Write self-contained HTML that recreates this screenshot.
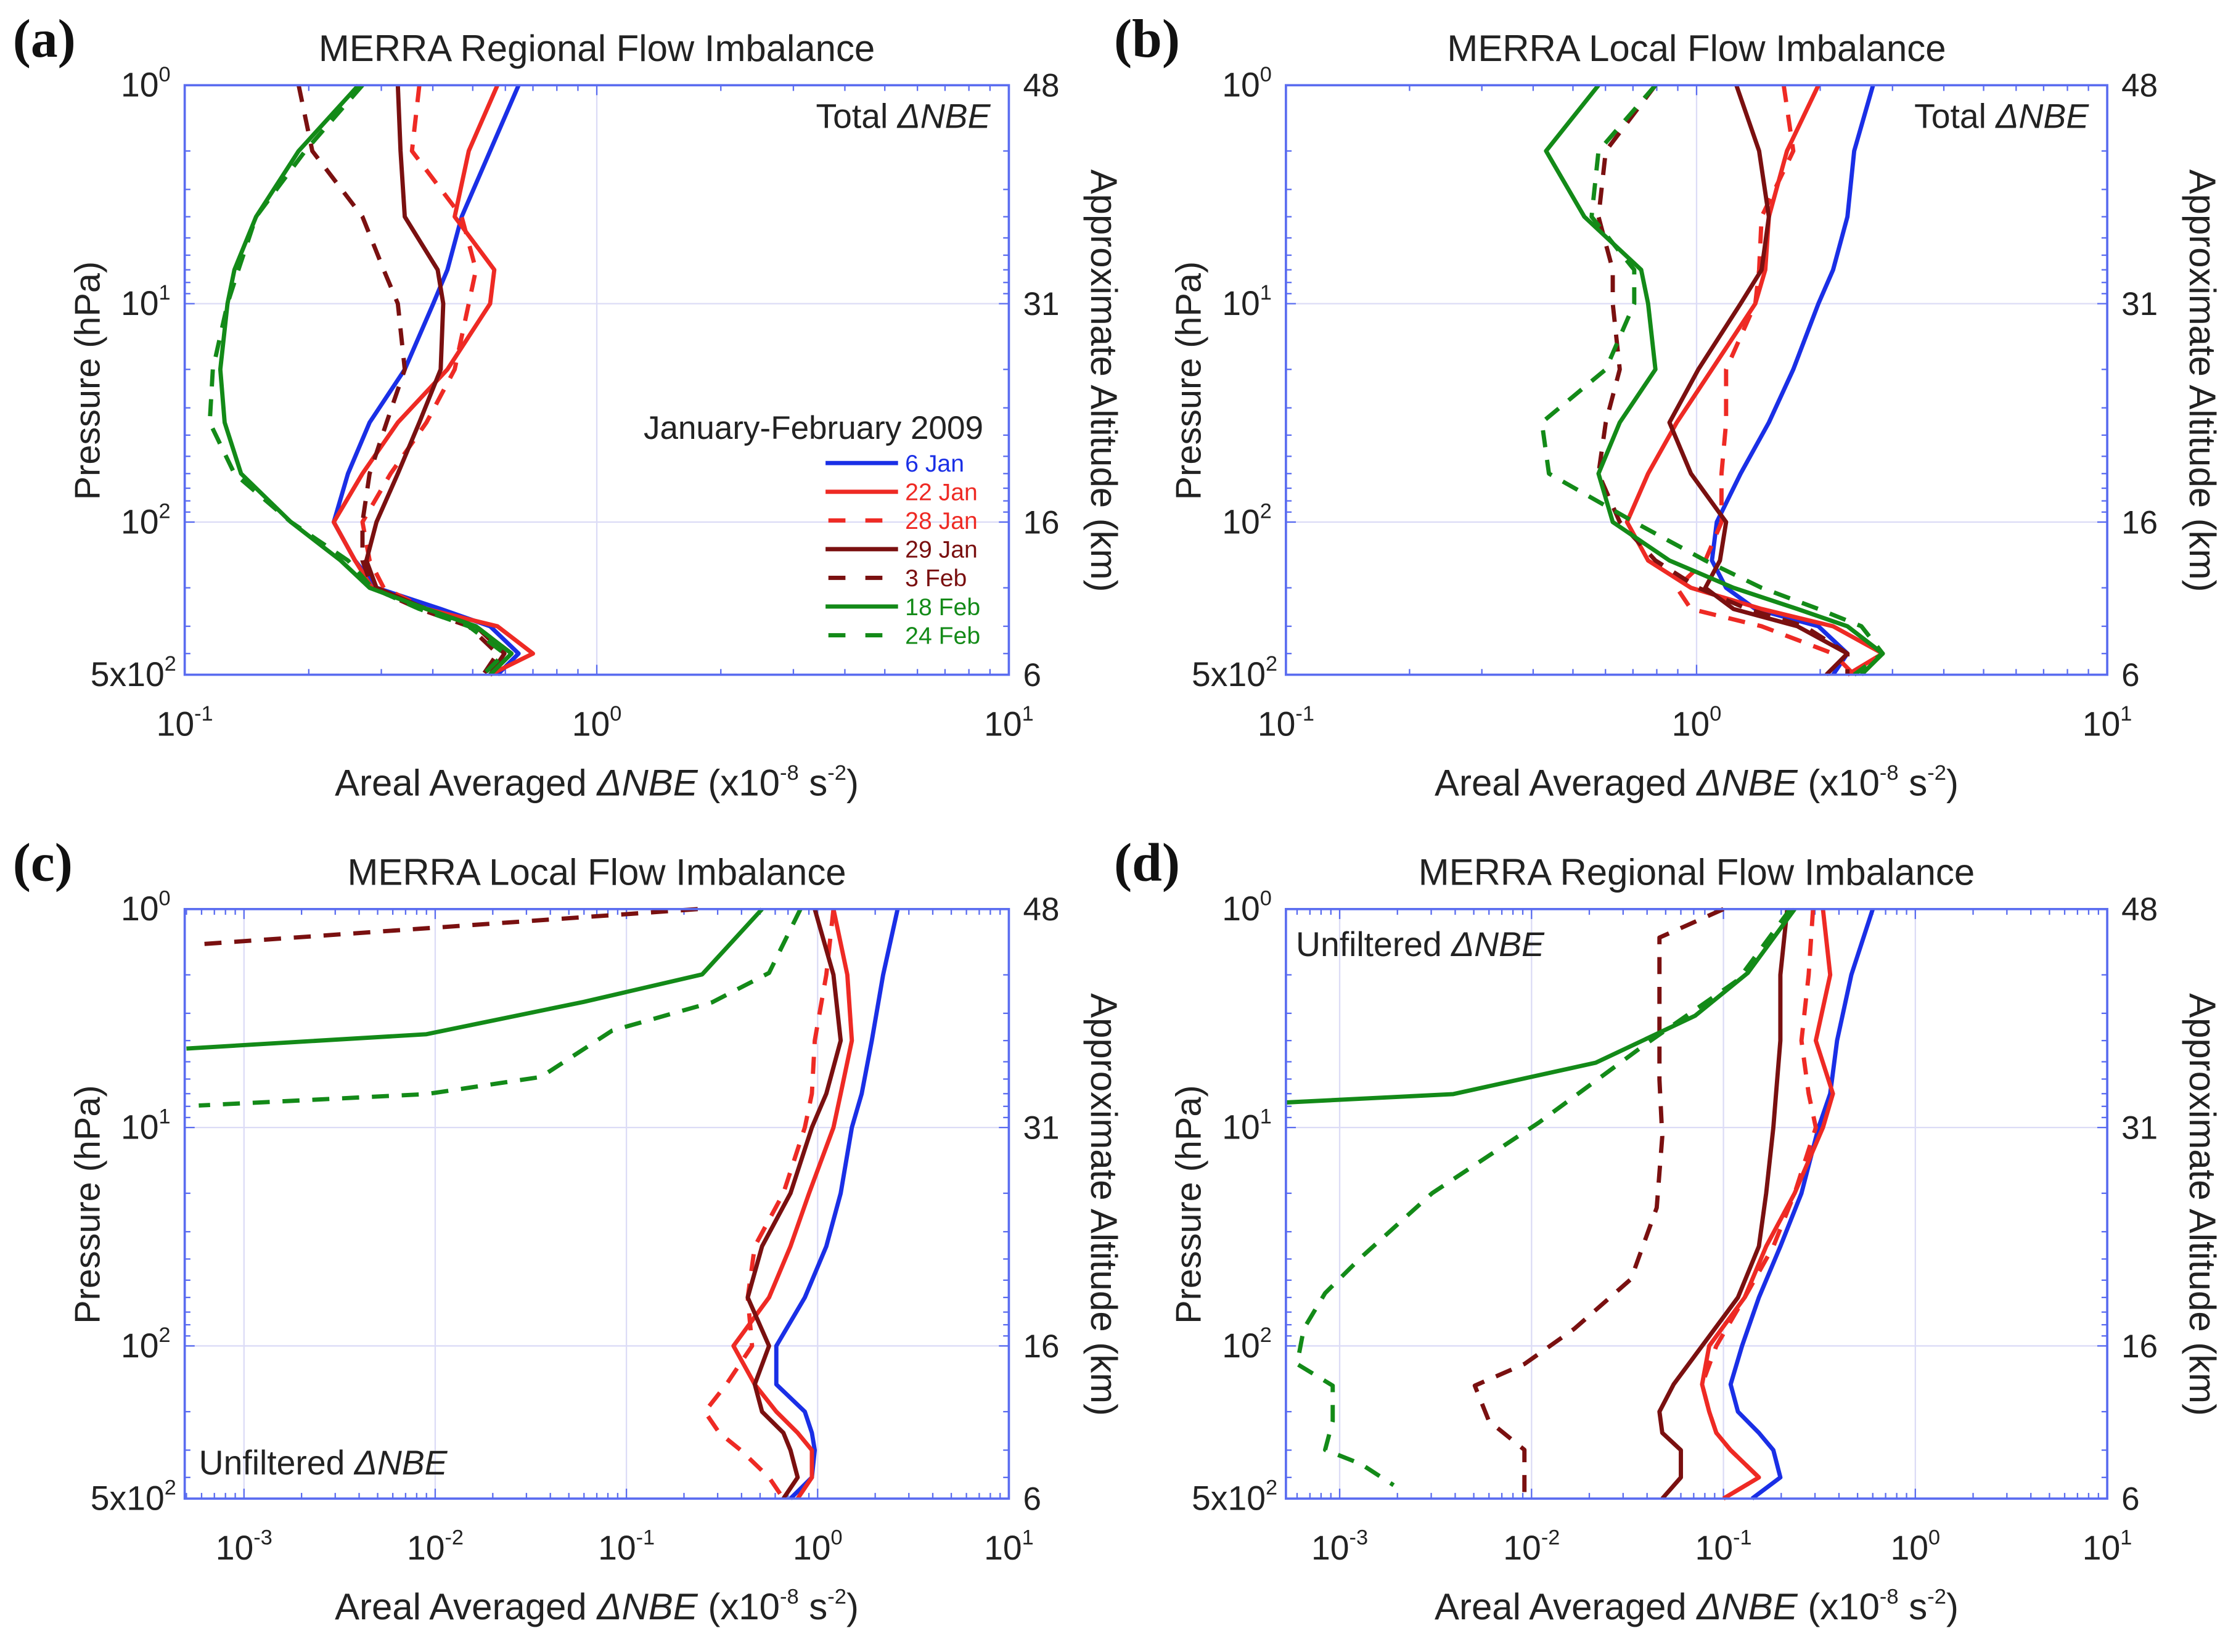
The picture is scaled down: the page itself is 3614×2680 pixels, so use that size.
<!DOCTYPE html>
<html><head><meta charset="utf-8"><style>
html,body{margin:0;padding:0;background:#fff;}
svg{display:block;font-family:"Liberation Sans",sans-serif;}
</style></head><body>
<svg id="fig" width="3614" height="2680" viewBox="0 0 1568 1163" preserveAspectRatio="none" xmlns="http://www.w3.org/2000/svg"></svg>
<script>
// Shared pressure levels (hPa)
const P = [1,2,4,7,10,20,35,60,100,150,200,250,300,400,500];
const seriesNames = ['6 Jan','22 Jan','28 Jan','29 Jan','3 Feb','18 Feb','24 Feb'];
// Panel (a) values
const a_6jan  = [0.646,0.551,0.470,0.434,0.401,0.342,0.281,0.249,0.230,0.259,0.292,0.418,0.551,0.646,0.574];
const a_22jan = [0.574,0.489,0.452,0.564,0.551,0.434,0.329,0.270,0.230,0.259,0.285,0.386,0.574,0.700,0.551];
const a_28jan = [0.371,0.356,0.470,0.509,0.489,0.452,0.386,0.316,0.270,0.281,0.304,0.386,0.509,0.621,0.551];
const a_29jan = [0.329,0.334,0.342,0.411,0.424,0.418,0.371,0.329,0.292,0.276,0.292,0.386,0.509,0.597,0.551];
const a_3feb  = [0.189,0.204,0.270,0.304,0.329,0.342,0.309,0.281,0.270,0.270,0.285,0.371,0.489,0.574,0.530];
const a_18feb = [0.264,0.189,0.149,0.132,0.127,0.122,0.125,0.137,0.181,0.239,0.281,0.386,0.509,0.621,0.551];
const a_24feb = [0.270,0.196,0.149,0.135,0.127,0.117,0.115,0.132,0.181,0.249,0.285,0.371,0.489,0.597,0.530];
// Panel (b) values
const b_6jan  = [2.69,2.42,2.33,2.15,1.98,1.72,1.50,1.28,1.12,1.09,1.18,1.39,1.98,2.33,2.15];
const b_22jan = [1.98,1.66,1.50,1.47,1.39,1.09,0.895,0.762,0.677,0.762,0.969,1.44,2.15,2.84,2.33];
const b_28jan = [1.63,1.72,1.44,1.42,1.39,1.18,1.18,1.15,1.15,1.05,0.895,0.969,1.44,2.15,2.42];
const b_29jan = [1.25,1.42,1.50,1.44,1.28,1.01,0.859,0.969,1.18,1.14,1.05,1.23,1.76,2.33,2.07];
const b_3feb  = [0.794,0.601,0.577,0.625,0.625,0.650,0.601,0.577,0.650,0.794,1.01,1.33,1.83,2.33,2.33];
const b_18feb = [0.577,0.430,0.533,0.733,0.762,0.794,0.650,0.577,0.625,0.859,1.23,1.76,2.33,2.84,2.52];
const b_24feb = [0.794,0.577,0.555,0.705,0.705,0.601,0.420,0.437,0.705,1.05,1.44,1.98,2.52,2.84,2.42];
// Panel (c) values
const c_6jan  = [2.62,2.20,1.92,1.70,1.51,1.32,1.11,0.857,0.608,0.608,0.857,0.933,0.966,0.933,0.721];
const c_22jan = [1.21,1.43,1.51,1.32,1.21,0.902,0.721,0.557,0.363,0.469,0.608,0.786,0.933,0.933,0.786];
const c_28jan = [1.21,1.11,0.966,0.933,0.857,0.662,0.469,0.431,0.454,0.333,0.257,0.306,0.396,0.557,0.662];
const c_29jan = [0.966,1.21,1.32,1.11,0.933,0.721,0.512,0.431,0.557,0.469,0.512,0.662,0.721,0.786,0.662];
const c_3feb_p = [1,1.45];
const c_3feb  = [0.236,0.00058];
const c_18feb_p = [1,1.99,2.66,3.74,4.35];
const c_18feb = [0.512,0.249,0.0597,0.0090,0.0005];
const c_24feb_p = [1,1.96,2.67,3.6,5.87,7.03,7.93];
const c_24feb = [0.813,0.557,0.281,0.0842,0.0357,0.0090,0.00058];
// Panel (d) values
const d_6jan  = [0.600,0.464,0.391,0.360,0.313,0.255,0.198,0.153,0.125,0.109,0.119,0.153,0.182,0.198,0.141];
const d_22jan = [0.330,0.360,0.303,0.372,0.330,0.235,0.167,0.129,0.0843,0.0774,0.0843,0.0918,0.109,0.153,0.100];
const d_28jan = [0.293,0.278,0.255,0.278,0.303,0.235,0.182,0.129,0.0918,0.0774,0.0843,0.0918,0.109,0.153,0.100];
const d_29jan = [0.215,0.198,0.198,0.188,0.182,0.167,0.153,0.119,0.0774,0.0550,0.0464,0.0480,0.0600,0.0600,0.0480];
const d_3feb_p = [1,1.35,6.05,11.0,23.3,49.4,83.5,121,152,221,299,469];
const d_3feb  = [0.1,0.0464,0.0464,0.048,0.0449,0.0330,0.0167,0.00918,0.00506,0.0060,0.00918,0.00918];
const d_18feb_p = [1,1.96,3.08,5.05,7.03,7.68];
const d_18feb = [0.235,0.134,0.0711,0.0216,0.00391,0.000506];
const d_24feb_p = [1,2.11,4.16,9.5,20.0,39.4,57.3,83.5,121,152,221,299,347,434];
const d_24feb = [0.223,0.119,0.0392,0.0109,0.00303,0.00129,0.00084,0.00065,0.0006,0.00092,0.00092,0.00084,0.00129,0.00191];
// Axis tick labels
const yTickExp = [0,1,2];
const altLabels = ['48','31','16','6'];
const xTickExpAB = [-1,0,1];
const xTickExpCD = [-3,-2,-1,0,1];

const NS='http://www.w3.org/2000/svg';
const svg=document.getElementById('fig');
const COL={'6 Jan':'#1a2fe6','22 Jan':'#ee2a24','28 Jan':'#ee2a24','29 Jan':'#7a1010','3 Feb':'#7a1010','18 Feb':'#138a18','24 Feb':'#138a18'};
const DASH={'28 Jan':1,'3 Feb':1,'24 Feb':1};
function el(tag,attrs,parent){const e=document.createElementNS(NS,tag);for(const k in attrs)e.setAttribute(k,attrs[k]);(parent||svg).appendChild(e);return e;}
function sup(parent,x,y,base,exp,size,anchor){
  const t=el('text',{x:x,y:y,'font-size':size,'text-anchor':anchor||'middle',fill:'#222'},parent);
  t.appendChild(document.createTextNode(base));
  const s=el('tspan',{'font-size':size*0.62,dy:-size*0.45},t);
  s.textContent=exp;
  return t;
}
function panel(cfg){
  const g=el('g',{});
  
  
  const x0=cfg.x0,x1=cfg.x1,y0=cfg.y0,y1=cfg.y0+415;
  const dec=(x1-x0)/(cfg.lmax-cfg.lmin);
  const X=v=>x0+(Math.log10(v)-cfg.lmin)*dec;
  const Y=p=>y0+Math.log10(p)*(415/Math.log10(500));
  for(let e=Math.ceil(cfg.lmin);e<cfg.lmax;e++){ if(X(Math.pow(10,e))<=x0+1)continue;
    const l=el('line',{x1:X(Math.pow(10,e)),x2:X(Math.pow(10,e)),y1:y0,y2:y1,stroke:'#dcdcf6','stroke-width':1},g);
    
    }
  [10,100].forEach(p=>{const l=el('line',{x1:x0,x2:x1,y1:Y(p),y2:Y(p),stroke:'#dcdcf6','stroke-width':1},g);
    
    });
  for(let e=Math.floor(cfg.lmin);e<cfg.lmax;e++){for(let m=1;m<10;m++){const v=m*Math.pow(10,e);const xx=X(v);if(xx<x0||xx>x1)continue;
    const L=m===1?7:4;
    el('line',{x1:xx,x2:xx,y1:y1,y2:y1-L,stroke:'#5a6cf0','stroke-width':1},g);
    el('line',{x1:xx,x2:xx,y1:y0,y2:y0+L,stroke:'#5a6cf0','stroke-width':1},g);}}
  for(let e=0;e<3;e++){for(let m=1;m<10;m++){const p=m*Math.pow(10,e);if(p>500)continue;const yy=Y(p);const L=m===1?7:4;
    el('line',{x1:x0,x2:x0+L,y1:yy,y2:yy,stroke:'#5a6cf0','stroke-width':1},g);
    el('line',{x1:x1,x2:x1-L,y1:yy,y2:yy,stroke:'#5a6cf0','stroke-width':1},g);}}
  cfg.series.forEach(s=>{
    const pts=s.v.map((v,i)=>X(Math.max(v,Math.pow(10,cfg.lmin)))+','+Y(s.p[i])).join(' ');
    const pl=el('polyline',{points:pts,fill:'none',stroke:COL[s.name],'stroke-width':3,'stroke-linejoin':'round','stroke-dasharray':DASH[s.name]?'12,9':'none'},g);
    
    
  });
  const fr=el('rect',{x:x0,y:y0,width:x1-x0,height:415,fill:'none',stroke:'#5a6cf0','stroke-width':1.6},g);
  
  
  yTickExp.forEach(e=>{const t=sup(g,x0-10,Y(Math.pow(10,e))+8,'10',String(e),24,'end');
    
    });
  const t5=sup(g,x0-6,y1+8,'5x10','2',24,'end');
  
  
  [1,10,100,500].forEach((p,i)=>{const t=el('text',{x:x1+10,y:Y(p)+8,'font-size':23,fill:'#222'},g);t.textContent=altLabels[i];
    
    });
  cfg.xticks.forEach(e=>{const t=sup(g,X(Math.pow(10,e)),y1+43,'10',String(e),24,'middle');
    
    });
  const yl=el('text',{x:0,y:0,'font-size':25,fill:'#222','text-anchor':'middle',transform:`translate(${x0-60},${y0+208}) rotate(-90)`},g);
  yl.textContent='Pressure (hPa)';
  
  
  const yr=el('text',{x:0,y:0,'font-size':26,fill:'#222','text-anchor':'middle',transform:`translate(${x1+58},${y0+208}) rotate(90)`},g);
  yr.textContent='Approximate Altitude (km)';
  
  
  const xl=el('text',{x:(x0+x1)/2,y:y1+85,'font-size':26,fill:'#222','text-anchor':'middle'},g);
  xl.innerHTML='Areal Averaged <tspan font-style="italic">ΔNBE</tspan> (x10<tspan font-size="15" dy="-11">-8</tspan><tspan dy="11"> s</tspan><tspan font-size="15" dy="-11">-2</tspan><tspan dy="11">)</tspan>';
  
  
  const ti=el('text',{x:(x0+x1)/2,y:y0-17,'font-size':26,fill:'#222','text-anchor':'middle'},g);
  ti.textContent=cfg.title;
  
  
  const lt=el('text',{x:x0-121,y:y0-20,'font-size':38,'font-weight':'bold','font-family':'Liberation Serif, serif',fill:'#111'},g);
  lt.textContent='('+cfg.id+')';
  
  
  const an=el('text',{x:cfg.ann[0],y:cfg.ann[1],'font-size':24,fill:'#222','text-anchor':cfg.ann[2]},g);
  an.innerHTML=cfg.annText+' <tspan font-style="italic">ΔNBE</tspan>';
  
  
  return g;
}
function std(arrs){return seriesNames.map((n,i)=>({name:n,p:P,v:arrs[i]}));}
panel({id:'a',x0:130,x1:710,y0:60,lmin:-1,lmax:1,xticks:xTickExpAB,title:'MERRA Regional Flow Imbalance',ann:[697,90,'end'],annText:'Total',
  series:std([a_6jan,a_22jan,a_28jan,a_29jan,a_3feb,a_18feb,a_24feb])});
panel({id:'b',x0:905,x1:1483,y0:60,lmin:-1,lmax:1,xticks:xTickExpAB,title:'MERRA Local Flow Imbalance',ann:[1470,90,'end'],annText:'Total',
  series:std([b_6jan,b_22jan,b_28jan,b_29jan,b_3feb,b_18feb,b_24feb])});
panel({id:'c',x0:130,x1:710,y0:640,lmin:-3.31,lmax:1,xticks:xTickExpCD,title:'MERRA Local Flow Imbalance',ann:[140,1038,'start'],annText:'Unfiltered',
  series:[{name:'6 Jan',p:P,v:c_6jan},{name:'22 Jan',p:P,v:c_22jan},{name:'28 Jan',p:P,v:c_28jan},{name:'29 Jan',p:P,v:c_29jan},
          {name:'3 Feb',p:c_3feb_p,v:c_3feb},{name:'18 Feb',p:c_18feb_p,v:c_18feb},{name:'24 Feb',p:c_24feb_p,v:c_24feb}]});
panel({id:'d',x0:905,x1:1483,y0:640,lmin:-3.28,lmax:1,xticks:xTickExpCD,title:'MERRA Regional Flow Imbalance',ann:[912,673,'start'],annText:'Unfiltered',
  series:[{name:'6 Jan',p:P,v:d_6jan},{name:'28 Jan',p:P,v:d_28jan},{name:'22 Jan',p:P,v:d_22jan},{name:'29 Jan',p:P,v:d_29jan},
          {name:'3 Feb',p:d_3feb_p,v:d_3feb},{name:'18 Feb',p:d_18feb_p,v:d_18feb},{name:'24 Feb',p:d_24feb_p,v:d_24feb}]});
const lg=el('g',{});


const lgt=el('text',{x:692,y:309,'font-size':23,fill:'#222','text-anchor':'end'},lg);
lgt.textContent='January-February 2009';
seriesNames.forEach((n,i)=>{
  const yy=326+i*20.2;
  const e=el('g',{},lg);
  
  
  el('line',{x1:DASH[n]?583:581,x2:632,y1:yy,y2:yy,stroke:COL[n],'stroke-width':3,'stroke-dasharray':DASH[n]?'12,14':'none'},e);
  const t=el('text',{x:637,y:yy+6,'font-size':17,fill:COL[n]},e);t.textContent=n;
});
</script>
</body></html>
